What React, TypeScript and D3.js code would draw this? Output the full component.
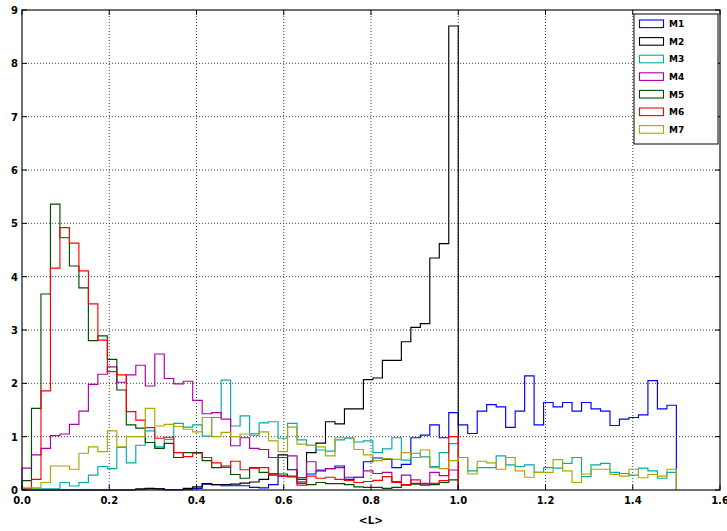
import React from "react";
import * as d3 from "d3";

// Bin width shared by all histograms (69 bins over 0..1.5)
const BIN_W = 1.5 / 69;

const seriesNames = ["M1", "M2", "M3", "M4", "M5", "M6", "M7"];
const seriesColors = ["#0000ff", "#000000", "#00acac", "#aa00aa", "#004d00", "#ff0000", "#a8a800"];

const m1 = [0, 0, 0, 0, 0, 0, 0, 0, 0, 0, 0, 0,
  0.01, 0.02, 0.02, 0.01, 0, 0.01, 0.03, 0.11, 0.1, 0.08, 0.08, 0.08,
  0.05, 0.04, 0.1, 0.26, 0.25, 0.23, 0.3, 0.36, 0.4, 0.45, 0.2, 0.24,
  0.53, 0.6, 0.58, 0.42, 0.48, 0.98, 1.03, 1.22, 0.98, 1.45,
  1.22, 1.06, 1.48, 1.6, 1.56, 1.175, 1.48, 2.14, 1.22, 1.64, 1.56, 1.64, 1.48, 1.64,
  1.52, 1.48, 1.21, 1.33, 1.36, 1.41, 2.05, 1.52, 1.59];
const m2 = [0, 0, 0, 0, 0, 0, 0, 0, 0, 0, 0, 0,
  0.02, 0.03, 0.02, 0.0, 0.01, 0.03, 0.06, 0.12, 0.1, 0.1, 0.11, 0.13,
  0.15, 0.2, 0.3, 0.66, 0.38, 0.15, 0.7, 0.88, 1.28, 1.24, 1.52, 1.52,
  2.07, 2.1, 2.43, 2.43, 2.78, 3.05, 3.12, 4.35, 4.62, 8.7];
const m3 = [0.02, 0.02, 0.02, 0.02, 0.14, 0.075, 0.14, 0.28, 0.44, 0.4, 0.8, 0.51,
  0.84, 1.11, 0.81, 0.95, 1.25, 1.18, 1.22, 1.01, 1.36, 2.06, 1.2, 1.39,
  1.03, 1.26, 1.28, 0.97, 1.25, 0.94, 0.84, 0.75, 0.73, 0.94, 0.97, 0.9,
  0.92, 0.7, 0.77, 0.98, 0.56, 0.69, 0.62, 0.44, 0.7, 0.87,
  0.61, 0.36, 0.42, 0.42, 0.64, 0.47, 0.44, 0.47, 0.33, 0.42, 0.41, 0.5, 0.61, 0.25,
  0.47, 0.5, 0.33, 0.31, 0.28, 0.41, 0.36, 0.22, 0.33];
const m4 = [0.41, 0.66, 0.78, 1.02, 1.05, 1.23, 1.48, 1.98, 2.17, 2.31, 2.02, 2.16,
  2.34, 1.95, 2.55, 2.09, 1.99, 2.04, 1.68, 1.43, 1.45, 1.33, 0.83, 0.98,
  0.78, 0.76, 0.61, 0.61, 0.64, 0.12, 0.53, 0.375, 0.4, 0.42, 0.24, 0.24,
  0.36, 0.31, 0.33, 0.16, 0.28, 0.125, 0.11, 0.33, 0.27, 0.375];
const m5 = [0.175, 1.53, 3.675, 5.36, 4.73, 4.2, 3.79, 2.8, 2.89, 2.45, 1.875, 1.22,
  1.16, 0.89, 0.78, 0.875, 0.61, 0.7, 0.7, 0.55, 0.42, 0.45, 0.29, 0.22,
  0.42, 0.33, 0.3, 0.3, 0.25, 0.2, 0.1, 0.14, 0.12, 0.12, 0.1, 0.06,
  0.05, 0.05, 0.03, 0.05, 0.09, 0.11, 0.09, 0.1, 0.14, 0.19];
const m6 = [0.02, 0.2, 1.86, 4.16, 4.92, 4.63, 4.11, 3.49, 2.81, 2.22, 2.16, 1.47,
  1.31, 1.17, 0.97, 0.99, 0.7, 0.625, 0.69, 0.61, 0.51, 0.425, 0.54, 0.38,
  0.41, 0.42, 0.28, 0.26, 0.26, 0.09, 0.26, 0.22, 0.24, 0.2, 0.18, 0.14,
  0.16, 0.18, 0.25, 0.14, 0.1, 0.19, 0.125, 0.125, 0.175, 1.0];
const m7 = [0.04, 0.04, 0.14, 0.45, 0.45, 0.39, 0.69, 0.81, 0.72, 1.11, 0.81, 1.0,
  1.0, 1.53, 1.2, 1.23, 1.19, 1.14, 1.09, 1.36, 1.0, 1.08, 1.0, 1.05,
  1.06, 1.09, 0.92, 0.72, 1.18, 0.86, 0.84, 0.81, 0.64, 0.98, 0.98, 0.76,
  0.66, 0.55, 0.59, 0.575, 0.7, 0.61, 0.75, 0.42, 0.4, 0.55,
  0.61, 0.3, 0.54, 0.51, 0.39, 0.61, 0.36, 0.24, 0.33, 0.33, 0.57, 0.36, 0.14, 0.3,
  0.39, 0.39, 0.29, 0.26, 0.39, 0.23, 0.29, 0.26, 0.39];

const seriesValues = [m1, m2, m3, m4, m5, m6, m7];

const xTicks = [0, 0.2, 0.4, 0.6, 0.8, 1.0, 1.2, 1.4, 1.6];
const yTicks = [0, 1, 2, 3, 4, 5, 6, 7, 8, 9];
const xTickLabels = ["0.0", "0.2", "0.4", "0.6", "0.8", "1.0", "1.2", "1.4", "1.6"];
const xLabel = "<L>";

const W = 727, H = 531;
const L = 22, R = 720, T = 10, B = 490;
const FONT = "'DejaVu Sans', sans-serif";

export default function App() {
  const x = d3.scaleLinear().domain([0, 1.6]).range([L, R]);
  const y = d3.scaleLinear().domain([0, 9]).range([B, T]);
  const line = d3.line<[number, number]>().x(d => x(d[0])).y(d => y(d[1]));

  const stepPts = (vals: number[]): [number, number][] => {
    const pts: [number, number][] = [[0, 0]];
    vals.forEach((v, i) => {
      pts.push([i * BIN_W, v]);
      pts.push([(i + 1) * BIN_W, v]);
    });
    pts.push([vals.length * BIN_W, 0]);
    return pts;
  };

  const tick = 5;
  const lx = 634, ly = 14, lw = 84, lh = 130;

  return (
    <svg width={W} height={H} style={{ position: "absolute", left: 0, top: 0, background: "#fff" }}
      fontFamily={FONT}>
      <rect x={0} y={0} width={W} height={H} fill="#fff" />
      {/* grid */}
      <g stroke="#000" strokeWidth={1} strokeDasharray="1,2" opacity={0.75}>
        {xTicks.slice(1, -1).map(t => (
          <line key={"gx" + t} x1={x(t)} x2={x(t)} y1={T} y2={B} />
        ))}
        {yTicks.slice(1, -1).map(t => (
          <line key={"gy" + t} x1={L} x2={R} y1={y(t)} y2={y(t)} />
        ))}
      </g>
      {/* series */}
      {seriesValues.map((vals, i) => (
        <path key={seriesNames[i]} d={line(stepPts(vals)) || ""} fill="none"
          stroke={seriesColors[i]} strokeWidth={1.15} strokeLinejoin="miter" />
      ))}
      {/* frame */}
      <rect x={L} y={T} width={R - L} height={B - T} fill="none" stroke="#222" strokeWidth={1.3} />
      {/* ticks */}
      <g stroke="#000" strokeWidth={1}>
        {xTicks.map(t => (
          <g key={"tx" + t}>
            <line x1={x(t)} x2={x(t)} y1={B} y2={B - tick} />
            <line x1={x(t)} x2={x(t)} y1={T} y2={T + tick} />
          </g>
        ))}
        {yTicks.map(t => (
          <g key={"ty" + t}>
            <line x1={L} x2={L + tick} y1={y(t)} y2={y(t)} />
            <line x1={R} x2={R - tick} y1={y(t)} y2={y(t)} />
          </g>
        ))}
      </g>
      {/* tick labels */}
      <g fontSize={10} fontWeight="bold" fill="#000">
        {xTicks.map((t, i) => (
          <text key={"lx" + t} x={x(t)} y={B + 14} textAnchor="middle">{xTickLabels[i]}</text>
        ))}
        {yTicks.map(t => (
          <text key={"ly" + t} x={L - 4} y={y(t) + 4} textAnchor="end">{t}</text>
        ))}
      </g>
      <text x={(L + R) / 2} y={524} textAnchor="middle" fontSize={10.5} fontWeight="bold">{xLabel}</text>
      {/* legend */}
      <rect x={lx} y={ly} width={lw} height={lh} fill="#fff" stroke="#000" strokeWidth={1} />
      {seriesNames.map((n, i) => {
        const cy = 23.8 + i * 17.6;
        return (
          <g key={"lg" + n}>
            <rect x={639.5} y={cy - 3.8} width={24} height={7.6} fill="#fff"
              stroke={seriesColors[i]} strokeWidth={1.1} />
            <text x={669} y={cy + 3.3} fontSize={9} fontWeight="bold">{n}</text>
          </g>
        );
      })}
    </svg>
  );
}
